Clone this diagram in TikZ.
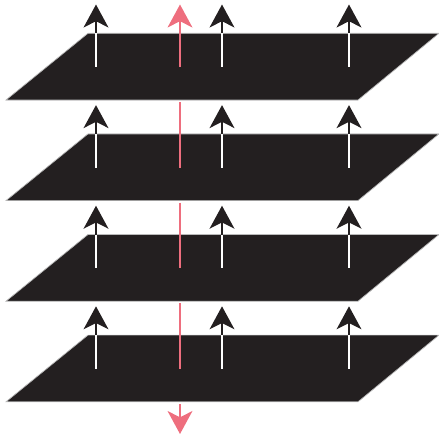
\documentclass[tikz,border=0pt]{standalone}
\usetikzlibrary{arrows.meta}
\definecolor{slabblack}{RGB}{35,31,32}
\definecolor{spinpink}{RGB}{238,110,126}

\begin{document}
\begin{tikzpicture}[x=0.02cm,y=-0.02cm,
      slab/.style={fill=slabblack,draw=gray!55,line width=0.4pt},
      spin/.style={-{Stealth[length=13pt,width=14pt,inset=3.5pt]},line width=1.7pt,slabblack},
      inside/.style={white,line width=1.2pt},
      probe/.style={spinpink,line width=1.6pt},
      probetip/.style={probe,-{Stealth[length=13pt,width=14pt,inset=3.5pt]}}]
    \useasboundingbox (0,0) rectangle (439,436);
    % four stacked planes
    \foreach \k in {0,1,2,3} {
      \pgfmathsetmacro{\o}{100.6*\k}
      \draw[slab] (88,33.3+\o) -- (439,33.3+\o) -- (358,100+\o) -- (6,100+\o) -- cycle;
      \foreach \x [count=\i] in {96,222,349} {
        \coordinate (base\k\i) at (\x,67+\o);
        \coordinate (edge\k\i) at (\x,33.3+\o);
        \coordinate (tip\k\i) at (\x,4.5+\o);
        \draw[spin] (base\k\i) -- (tip\k\i);
        \draw[inside] (edge\k\i) -- (base\k\i);
      }
      \coordinate (mid\k) at (180,67+\o);
      \coordinate (under\k) at (180,102+\o);
    }
    % pink line through the stack
    \coordinate (ptop) at (180,4.5);
    \coordinate (pbot) at (180,434);
    \draw[probetip] (mid0) -- (ptop);
    \draw[probe] (under0) -- (mid1);
    \draw[probe] (under1) -- (mid2);
    \draw[probe] (under2) -- (mid3);
    \draw[probetip] (under3) -- (pbot);
  \end{tikzpicture}
\end{document}
